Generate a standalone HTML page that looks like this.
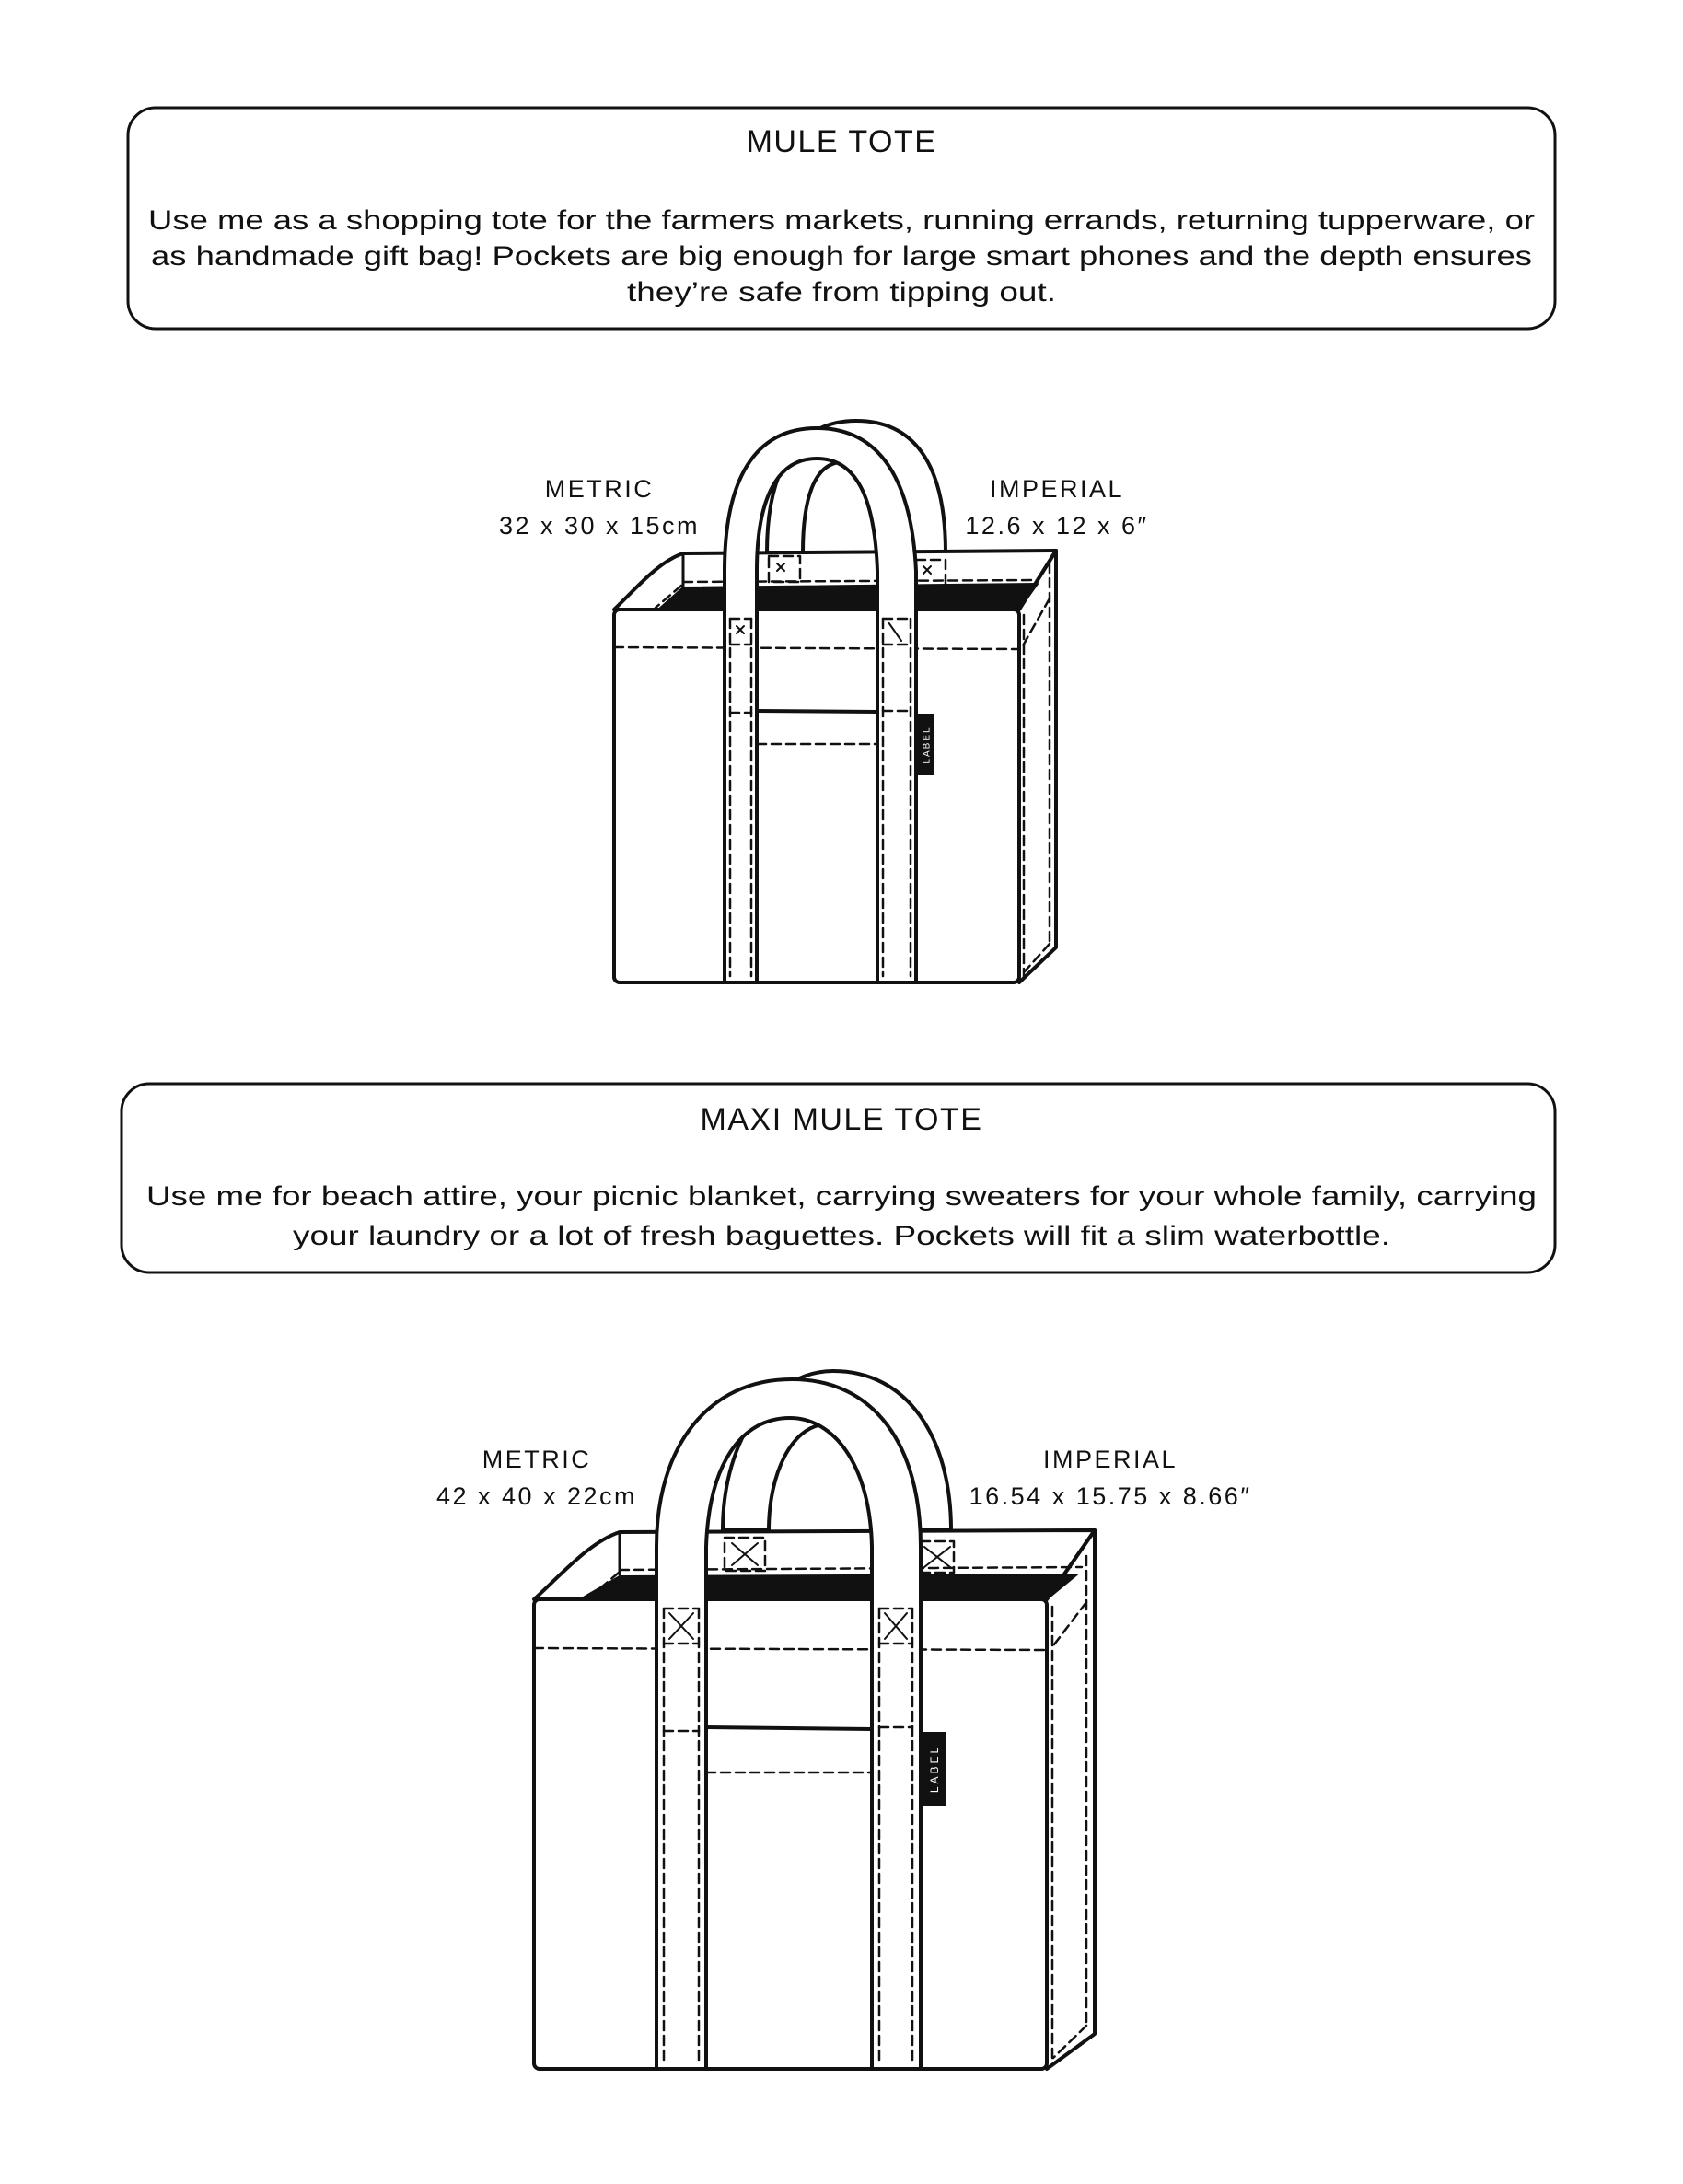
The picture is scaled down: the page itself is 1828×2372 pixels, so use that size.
<!DOCTYPE html>
<html><head><meta charset="utf-8"><style>html,body{margin:0;padding:0;background:#fff}svg{display:block}</style></head>
<body>
<svg width="1828" height="2372" viewBox="0 0 1828 2372" xmlns="http://www.w3.org/2000/svg" font-family="Liberation Sans, sans-serif" fill="none" stroke="#111" stroke-linejoin="round" stroke-linecap="round">
<!-- Box 1 -->
<rect x="139" y="117" width="1550" height="240" rx="30" stroke-width="3"/>
<g fill="#111" stroke="none" text-anchor="middle">
<text x="914" y="165" font-size="34" letter-spacing="1.5">MULE TOTE</text>
<text x="914" y="249" font-size="30" textLength="1506" lengthAdjust="spacingAndGlyphs">Use me as a shopping tote for the farmers markets, running errands, returning tupperware, or</text>
<text x="914" y="288" font-size="30" textLength="1500" lengthAdjust="spacingAndGlyphs">as handmade gift bag! Pockets are big enough for large smart phones and the depth ensures</text>
<text x="914" y="327" font-size="30" textLength="466" lengthAdjust="spacingAndGlyphs">they’re safe from tipping out.</text>
</g>
<!-- Box 2 -->
<rect x="132" y="1177" width="1557" height="205" rx="30" stroke-width="3"/>
<g fill="#111" stroke="none" text-anchor="middle">
<text x="914" y="1227" font-size="34" letter-spacing="1.5">MAXI MULE TOTE</text>
<text x="914" y="1309" font-size="30" textLength="1510" lengthAdjust="spacingAndGlyphs">Use me for beach attire, your picnic blanket, carrying sweaters for your whole family, carrying</text>
<text x="914" y="1352" font-size="30" textLength="1192" lengthAdjust="spacingAndGlyphs">your laundry or a lot of fresh baguettes. Pockets will fit a slim waterbottle.</text>
</g>
<!-- labels -->
<g fill="#111" stroke="none" text-anchor="middle" font-size="27" letter-spacing="2.5">
<text x="651" y="540">METRIC</text><text x="651" y="580">32 x 30 x 15cm</text>
<text x="1148" y="540">IMPERIAL</text><text x="1148" y="580">12.6 x 12 x 6″</text>
<text x="583" y="1594">METRIC</text><text x="583" y="1634">42 x 40 x 22cm</text>
<text x="1206" y="1594">IMPERIAL</text><text x="1206" y="1634">16.54 x 15.75 x 8.66″</text>
</g>

<!-- TOTE 1 -->
<g stroke-width="4">
<path d="M833,600 C833,490 880,457 930,457 C990,457 1027,500 1027,600 L990,600 C988,540 960,500 912,502 C885,505 872,540 872,600 Z" fill="#fff"/>
<path d="M667,662 C690,640 715,610 742,601 L1147,598 L1107,662 Z" fill="#fff"/>
<path d="M715,662 L742,638 L1127,634 L1107,662 Z" fill="#111" stroke-width="2"/>
<path d="M742,601 L742,638" stroke-width="3"/>
<path d="M1147,598 L1147,1029 L1107,1067" fill="#fff"/>
<path d="M1107,662 L1147,598" />
<rect x="667" y="662" width="440" height="405" rx="6" fill="#fff"/>
<g stroke-width="2.5" stroke-dasharray="10 6">
<path d="M742,632 L1127,630"/>
<path d="M740,636 L712,660"/>
<path d="M1140,612 L1140,1025"/>
<path d="M1140,650 L1110,703"/>
<path d="M1140,1025 L1113,1055"/>
<path d="M1112,668 L1112,1060"/>
<path d="M667,703 L1107,705"/>
<path d="M822,808 L953,808"/>
<rect x="835" y="604" width="34" height="28"/>
<rect x="995" y="608" width="32" height="28"/>
</g>
<path d="M787,1067 L787,620 C787,520 820,465 887,465 C955,465 990,520 995,620 L995,1067 L953,1067 L953,620 C950,540 930,498 887,498 C845,498 822,540 822,620 L822,1067 Z" fill="#fff"/>
<path d="M822,772 L953,773" stroke-width="4"/>
<g stroke-width="2.5" stroke-dasharray="10 6">
<path d="M793,672 L793,1060 M816,672 L816,1060 M959,672 L959,1060 M989,672 L989,1060"/>
<path d="M793,700 L816,700 M959,700 L989,700 M793,774 L816,774 M959,772 L989,772"/>
<path d="M793,672 L816,672 M959,672 L989,672"/>
</g>
<g stroke-width="2"><path d="M800,680 l8,8 m0,-8 l-8,8 M844,612 l8,8 m0,-8 l-8,8 M1003,615 l8,8 m0,-8 l-8,8 M965,676 l14,20"/></g>
<rect x="997" y="776" width="17" height="66" fill="#111" stroke="none"/>
<text x="0" y="0" transform="translate(1009.5,809) rotate(-90)" fill="#fff" stroke="none" font-size="10" letter-spacing="2" text-anchor="middle">LABEL</text>
</g>

<!-- TOTE 2 -->
<g stroke-width="4">
<path d="M785,1662 C785,1560 840,1489 905,1489 C985,1489 1033,1560 1033,1662 L995,1662 C990,1590 950,1545 895,1547 C860,1550 835,1600 835,1662 Z" fill="#fff"/>
<path d="M580,1737 C610,1710 640,1675 673,1664 L1189,1662 L1137,1737 Z" fill="#fff"/>
<path d="M630,1737 L673,1712 L1170,1710 L1137,1737 Z" fill="#111" stroke-width="2"/>
<path d="M673,1664 L673,1710" stroke-width="3"/>
<path d="M1189,1662 L1189,2209 L1137,2247" fill="#fff"/>
<path d="M1137,1737 L1189,1662"/>
<rect x="580" y="1737" width="557" height="510" rx="6" fill="#fff"/>
<g stroke-width="2.5" stroke-dasharray="10 6">
<path d="M673,1705 L1175,1702"/>
<path d="M672,1708 L640,1735"/>
<path d="M1180,1690 L1180,2200"/>
<path d="M1180,1740 L1142,1790"/>
<path d="M1180,2200 L1144,2235"/>
<path d="M1143,1745 L1143,2238"/>
<path d="M580,1790 L1137,1792"/>
<path d="M767,1925 L947,1925"/>
<rect x="787" y="1670" width="44" height="36"/>
<rect x="1000" y="1674" width="36" height="34"/>
</g>
<path d="M713,2247 L713,1680 C713,1570 770,1498 860,1498 C950,1498 1000,1570 1000,1680 L1000,2247 L947,2247 L947,1680 C945,1590 905,1540 858,1540 C805,1540 770,1590 767,1680 L767,2247 Z" fill="#fff"/>
<path d="M767,1876 L947,1878"/>
<g stroke-width="2.5" stroke-dasharray="10 6">
<path d="M721,1747 L721,2240 M759,1747 L759,2240 M955,1747 L955,2240 M991,1747 L991,2240"/>
<path d="M721,1747 L759,1747 M955,1747 L991,1747 M721,1785 L759,1785 M955,1785 L991,1785 M721,1880 L759,1880 M955,1876 L991,1876"/>
</g>
<g stroke-width="2"><path d="M727,1752 l26,28 m0,-28 l-26,28 M961,1752 l24,28 m0,-28 l-24,28 M795,1676 l28,24 m0,-24 l-28,24 M1004,1680 l28,22 m0,-22 l-28,22"/></g>
<rect x="1003" y="1881" width="24" height="81" fill="#111" stroke="none"/>
<text x="0" y="0" transform="translate(1019,1921) rotate(-90)" fill="#fff" stroke="none" font-size="12" letter-spacing="3" text-anchor="middle">LABEL</text>
</g>
</svg>
</body></html>
